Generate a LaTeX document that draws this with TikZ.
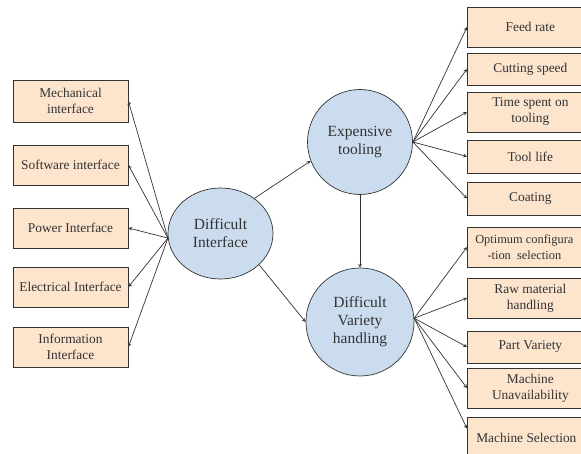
\documentclass[tikz,border=0pt]{standalone}
\usepackage{fontspec}
\setmainfont{Liberation Serif}
\usepackage{tikz}
\usetikzlibrary{arrows, shapes.geometric}
\tikzset{>=stealth}
\definecolor{boxfill}{HTML}{FCE4CD}
\definecolor{hubfill}{HTML}{CBDCEF}
\definecolor{edgecol}{HTML}{333333}
\begin{document}
\begin{tikzpicture}[>=stealth, x=1pt, y=-1pt, line width=0.7pt,
	hub/.style={ellipse, draw=edgecol, fill=hubfill, text=edgecol, align=center, inner sep=0pt, font=\fontsize{15.5}{18}\selectfont},
	leaf/.style={rectangle, draw=edgecol, fill=boxfill, text=edgecol, align=center, inner sep=0pt, font=\fontsize{13.4}{16}\selectfont},
	lbox/.style={leaf, minimum width=115pt},
	rbox/.style={leaf, anchor=west, minimum width=126pt}]
			\useasboundingbox (0,0) rectangle (581,454);
			\clip (0,0) rectangle (581,454);
			\node[hub, minimum width=105pt, minimum height=91pt] (A1) at (220.5,233.5) {Difficult\\Interface};
			\node[hub, minimum size=105pt] (B1) at (360,142) {Expensive\\tooling};
			\node[hub, minimum size=108pt] (C1) at (360,322) {Difficult\\Variety\\handling};
			% left side
			\node[lbox, minimum height=42pt] (L1) at (70.5,101) {Mechanical\\interface};
			\node[lbox, minimum height=40pt] (L2) at (70.5,165) {Software interface};
			\node[lbox, minimum height=40pt] (L3) at (70.5,228) {Power Interface};
			\node[lbox, minimum height=40pt] (L4) at (70.5,287) {Electrical Interface};
			\node[lbox, minimum height=40pt] (L5) at (70.5,347) {Information\\Interface};
			% tooling side
			\node[rbox, minimum height=40pt] (T1) at (467,27) {Feed rate};
			\node[rbox, minimum height=32pt] (T2) at (467,69) {Cutting speed};
			\node[rbox, minimum height=40pt] (T3) at (467,112) {Time spent on\\tooling};
			\node[rbox, minimum height=33pt] (T4) at (467,156.5) {Tool life};
			\node[rbox, minimum height=33pt] (T5) at (467,198.5) {Coating};
			% variety side
			\node[rbox, minimum height=40pt, font=\fontsize{12.4}{16}\selectfont] (R1) at (467,247) {Optimum configura\hspace*{12pt}\\-tion~ selection\hspace*{12pt}};
			\node[rbox, minimum height=40pt] (R2) at (467,298) {Raw material\\handling};
			\node[rbox, minimum height=32pt] (R3) at (467,347) {Part Variety};
			\node[rbox, minimum height=40pt] (R4) at (467,388) {Machine\\Unavailability};
			\node[rbox, minimum height=42pt, minimum width=118pt] (R5) at (467,438) {Machine Selection};
			\begin{scope}[draw=edgecol]
			\draw [->](A1.185)--(L1.east); \draw [->](A1.185)--(L2.east);
			\draw [->](A1.185)--(L3.east); \draw [->](A1.185)--(L4.east);
			\draw [->](A1.185)--(L5.east);
			\draw [->](A1.46)--(B1.201); \draw [->](A1.-39)--(C1.west);
			\draw [->](B1.south)--(C1.north);
			\draw [->](B1.east)--(T1.west); \draw [->](B1.east)--(T2.west);
			\draw [->](B1.east)--(T3.west); \draw [->](B1.east)--(T4.west);
			\draw [->](B1.east)--(T5.west);
			\draw [->](C1.4)--(R1.west); \draw [->](C1.4)--(R2.west);
			\draw [->](C1.4)--(R3.west); \draw [->](C1.4)--(R4.west);
			\draw [->](C1.4)--(R5.171);
			\end{scope}
		\end{tikzpicture}
\end{document}
